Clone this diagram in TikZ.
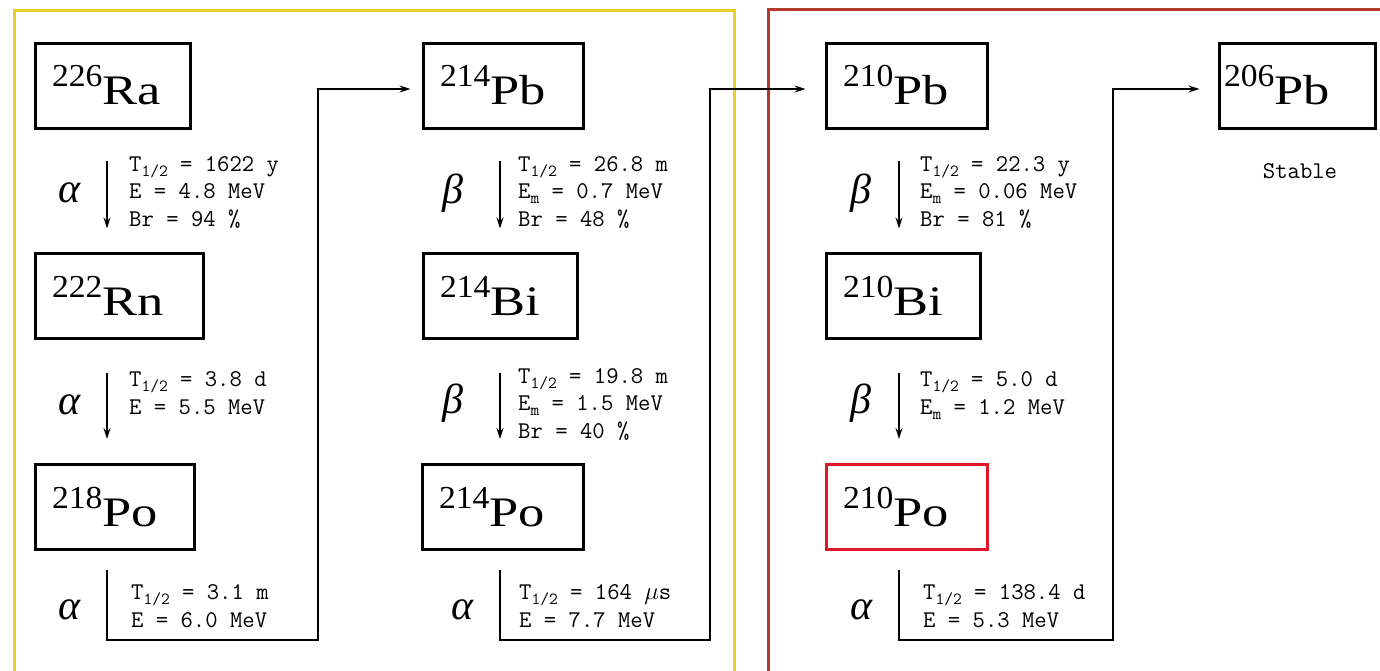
\documentclass[tikz,border=0pt]{standalone}
\usepackage{fontspec}
\usepackage{graphicx}
\usetikzlibrary{arrows.meta}
\newfontfamily\elfont{Liberation Serif}
\newfontfamily\grkfont{Liberation Serif}
\newcommand\iso[2]{{\elfont\fontsize{32}{32}\selectfont\raisebox{18pt}{\scalebox{1.05}[1]{#1}}}{\elfont\fontsize{42}{42}\selectfont\scalebox{1.25}[1]{#2}}}
\newcommand\half{\raisebox{-5pt}{\fontsize{17}{17}\selectfont 1/2}}
\newcommand\msub{\raisebox{-5pt}{\fontsize{17}{17}\selectfont m}}
\definecolor{frameyellow}{RGB}{232,208,40}
\definecolor{framered}{RGB}{178,58,44}
\definecolor{boxred}{RGB}{222,24,40}
\begin{document}
\begin{tikzpicture}[x=1pt,y=-1pt,
  box/.style={draw=black,line width=3pt,minimum height=85pt,inner xsep=17pt,inner ysep=0pt,align=left},
  info/.style={font=\ttfamily\fontsize{24}{27.5}\selectfont,align=left,anchor=base west,inner sep=0pt},
  greek/.style={font=\grkfont\itshape\fontsize{42}{42}\selectfont,inner sep=0pt},
  conn/.style={line width=1.3pt,-{Stealth[length=11pt,width=7pt]}}]
\useasboundingbox (0,0) rectangle (1380,670);
\clip (0,0) rectangle (1380,670);
\fill[white] (0,0) rectangle (1380,670);
\draw[frameyellow,line width=3pt] (14,10) rectangle (734,720);
\draw[framered,line width=3pt] (768,9) rectangle (1420,720);
% boxes
\node[box,text width=121pt] (ra) at (112.5,85.5) {\iso{226}{Ra}};
\node[box,text width=134pt] (rn) at (119,295.5) {\iso{222}{Rn}};
\node[box,text width=125pt] (po218) at (114.5,507) {\iso{218}{Po}};
\node[box,text width=126pt] (pb214) at (503,85.5) {\iso{214}{Pb}};
\node[box,text width=120pt] (bi214) at (500,295.5) {\iso{214}{Bi}};
\node[box,text width=127pt] (po214) at (502.5,507) {\iso{214}{Po}};
\node[box,text width=127pt] (pb210) at (906.5,85.5) {\iso{210}{Pb}};
\node[box,text width=120pt] (bi210) at (903,295.5) {\iso{210}{Bi}};
\node[box,draw=boxred,text width=127pt] (po210) at (906.5,507) {\iso{210}{Po}};
\node[box,inner xsep=5pt,text width=146pt] (pb206) at (1297,85.5) {\iso{206}{Pb}};
\node[info,anchor=base] (stable) at (1300,178) {Stable};
% arrow columns
\coordinate (c1) at (107,0);
\coordinate (c2) at (500,0);
\coordinate (c3) at (899,0);
\coordinate (v1) at (318,640);
\coordinate (v2) at (710,640);
\coordinate (v3) at (1113,640);
% down arrows
\draw[conn] ([yshift=-31pt]ra.south -| c1) -- ([yshift=23pt]rn.north -| c1);
\draw[conn] ([yshift=-33pt]rn.south -| c1) -- ([yshift=24pt]po218.north -| c1);
\draw[conn] ([yshift=-31pt]pb214.south -| c2) -- ([yshift=23pt]bi214.north -| c2);
\draw[conn] ([yshift=-33pt]bi214.south -| c2) -- ([yshift=24pt]po214.north -| c2);
\draw[conn] ([yshift=-31pt]pb210.south -| c3) -- ([yshift=23pt]bi210.north -| c3);
\draw[conn] ([yshift=-33pt]bi210.south -| c3) -- ([yshift=24pt]po210.north -| c3);
% bottom connectors
\draw[conn] ([yshift=-19pt]po218.south -| c1) |- (v1) |- ([xshift=-11pt,yshift=-3.5pt]pb214.west);
\draw[conn] ([yshift=-19pt]po214.south -| c2) |- (v2) |- ([xshift=-19pt,yshift=-3.5pt]pb210.west);
\draw[conn] ([yshift=-19pt]po210.south -| c3) |- (v3) |- ([xshift=-18pt,yshift=-3.5pt]pb206.west);
% decay labels
\node[greek] (g1) at (70,193) {α};
\node[greek] (g2) at (70,405) {α};
\node[greek] (g3) at (70,610) {α};
\node[greek] (g4) at (453,193) {β};
\node[greek] (g5) at (453,403) {β};
\node[greek] (g6) at (463,610) {α};
\node[greek] (g7) at (861,193) {β};
\node[greek] (g8) at (861,403) {β};
\node[greek] (g9) at (862,610) {α};
% decay data (anchor = baseline of last line)
\node[info] (d1) at (129,226) {T\half{} = 1622 y\\E = 4.8 MeV\\Br = 94 \%};
\node[info] (d2) at (129,414) {T\half{} = 3.8 d\\E = 5.5 MeV};
\node[info] (d3) at (131,627) {T\half{} = 3.1 m\\E = 6.0 MeV};
\node[info] (d4) at (518,226) {T\half{} = 26.8 m\\E\msub{} = 0.7 MeV\\Br = 48 \%};
\node[info] (d5) at (518,438) {T\half{} = 19.8 m\\E\msub{} = 1.5 MeV\\Br = 40 \%};
\node[info] (d6) at (519,627) {T\half{} = 164 $\mu$s\\E = 7.7 MeV};
\node[info] (d7) at (920,226) {T\half{} = 22.3 y\\E\msub{} = 0.06 MeV\\Br = 81 \%};
\node[info] (d8) at (920,414) {T\half{} = 5.0 d\\E\msub{} = 1.2 MeV};
\node[info] (d9) at (923,627) {T\half{} = 138.4 d\\E = 5.3 MeV};
\end{tikzpicture}
\end{document}
